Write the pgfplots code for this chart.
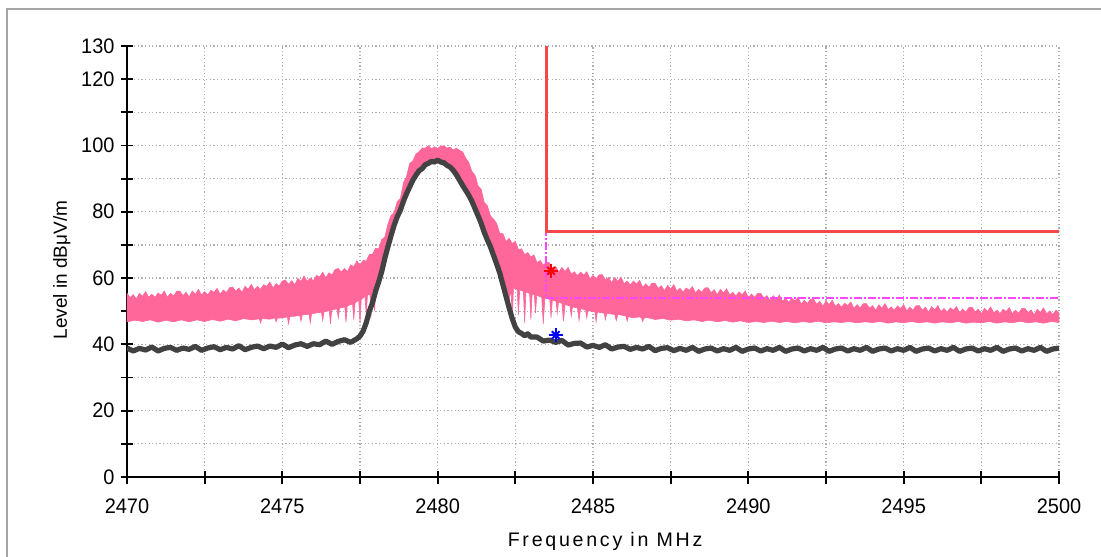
\documentclass[border=0pt]{standalone}
\usepackage{fontspec}
\setmainfont{Liberation Sans}
\newfontfamily\tickfont{Liberation Sans}[FakeStretch=0.95]
\newfontfamily\xlabfont{Liberation Sans}[LetterSpace=14]
\usepackage{pgfplots}
\pgfplotsset{compat=1.18}

\definecolor{pinkc}{RGB}{255,102,153}
\definecolor{darkc}{RGB}{66,66,66}
\definecolor{limc}{RGB}{245,72,72}
\definecolor{magc}{RGB}{255,70,255}
\definecolor{gridc}{RGB}{175,175,175}
\definecolor{framec}{RGB}{165,165,165}

\begin{document}
\begin{tikzpicture}
\useasboundingbox (-63.5pt,-39.5pt) rectangle (487pt,238.5pt);
\begin{axis}[
  at={(0,0)}, anchor=south west,
  scale only axis, width=466pt, height=215.5pt,
  xmin=2470, xmax=2500, ymin=0, ymax=130,
  axis x line*=bottom, axis y line*=left,
  axis line style={line width=1pt, -},
  xtick={2470,2475,...,2500},
  minor xtick={2472.5,2477.5,2482.5,2487.5,2492.5,2497.5},
  ytick={0,20,...,120,130},
  minor ytick={10,30,...,110},
  tick align=center, major tick length=6.5pt, minor tick length=6.5pt,
  tick style={black, line width=0.9pt},
  grid=both,
  grid style={gridc, line width=0.6pt, dash pattern=on 0.6pt off 1.2pt},
  minor grid style={gridc, line width=0.6pt, dash pattern=on 0.6pt off 1.2pt},
  /pgf/number format/.cd, 1000 sep={}, assume math mode=true,
  /pgfplots/.cd,
  tick label style={font=\tickfont\fontsize{10.5}{12}\selectfont, inner sep=0pt},
  xticklabel style={anchor=north, yshift=-7.3pt},
  yticklabel style={anchor=east, xshift=-2.8pt},
  xlabel={\xlabfont\fontsize{9.8}{11}\selectfont Frequency in MHz},
  ylabel={\fontsize{9.5}{11}\selectfont Level in dBμV/m},
  every axis x label/.style={at={(axis description cs:0.513,0)}, anchor=base, yshift=-34.5pt},
  every axis y label/.style={at={(axis description cs:0,0.48)}, xshift=-30pt, rotate=90, anchor=base},
]

% pink trace: upper edge forward, lower edge backward (with drop-outs)
\addplot[draw=pinkc, line width=0.3pt, fill=pinkc] coordinates {
(2470.0,55.4)(2470.1,54.1)(2470.2,55.0)(2470.3,53.7)(2470.4,55.4)(2470.5,54.5)(2470.6,55.9)(2470.7,54.2)(2470.8,55.1)(2470.9,54.2)
(2471.0,55.5)(2471.1,54.8)(2471.2,56.1)(2471.3,54.2)(2471.4,55.4)(2471.5,54.6)(2471.6,56.0)(2471.7,56.1)(2471.8,54.7)(2471.9,55.7)
(2472.0,54.3)(2472.1,56.1)(2472.2,55.1)(2472.3,56.6)(2472.4,54.9)(2472.5,55.9)(2472.6,54.9)(2472.7,56.3)(2472.8,55.7)(2472.9,56.9)
(2473.0,55.1)(2473.1,56.4)(2473.2,55.6)(2473.3,57.1)(2473.4,57.3)(2473.5,56.0)(2473.6,57.0)(2473.7,55.7)(2473.8,57.5)(2473.9,56.6)
(2474.0,58.1)(2474.1,56.4)(2474.2,57.5)(2474.3,56.6)(2474.4,58.0)(2474.5,57.5)(2474.6,58.8)(2474.7,57.0)(2474.8,58.3)(2474.9,57.6)
(2475.0,59.1)(2475.1,59.4)(2475.2,58.1)(2475.3,59.2)(2475.4,58.0)(2475.5,59.9)(2475.6,59.0)(2475.7,60.6)(2475.8,59.0)(2475.9,60.0)
(2476.0,59.2)(2476.1,60.8)(2476.2,60.3)(2476.3,61.8)(2476.4,60.1)(2476.5,61.6)(2476.6,60.9)(2476.7,62.6)(2476.8,62.9)(2476.9,61.8)
(2477.0,62.9)(2477.1,61.9)(2477.2,64.0)(2477.3,63.4)(2477.4,65.2)(2477.5,63.8)(2477.6,65.4)(2477.7,65.1)(2477.8,67.1)(2477.9,67.1)
(2478.0,69.0)(2478.1,68.8)(2478.2,71.6)(2478.3,72.4)(2478.4,76.3)(2478.5,78.9)(2478.6,79.8)(2478.7,83.1)(2478.8,84.0)(2478.9,88.7)
(2479.0,90.7)(2479.1,94.6)(2479.2,95.3)(2479.3,97.4)(2479.4,98.1)(2479.5,99.2)(2479.6,99.2)(2479.7,99.9)(2479.8,99.0)(2479.9,99.6)
(2480.0,99.1)(2480.1,99.8)(2480.2,99.9)(2480.3,99.2)(2480.4,99.5)(2480.5,98.6)(2480.6,99.2)(2480.7,98.5)(2480.8,98.1)(2480.9,96.2)
(2481.0,94.9)(2481.1,92.2)(2481.2,91.0)(2481.3,87.8)(2481.4,86.8)(2481.5,82.8)(2481.6,81.8)(2481.7,78.7)(2481.8,77.8)(2481.9,76.4)
(2482.0,73.5)(2482.1,73.4)(2482.2,71.0)(2482.3,72.0)(2482.4,70.4)(2482.5,71.1)(2482.6,68.6)(2482.7,68.8)(2482.8,67.1)(2482.9,67.7)
(2483.0,66.3)(2483.1,67.0)(2483.2,64.6)(2483.3,65.3)(2483.4,63.9)(2483.5,64.8)(2483.6,64.6)(2483.7,62.9)(2483.8,63.5)(2483.9,61.8)
(2484.0,63.2)(2484.1,62.0)(2484.2,63.2)(2484.3,61.2)(2484.4,61.9)(2484.5,60.7)(2484.6,61.8)(2484.7,60.9)(2484.8,61.9)(2484.9,59.8)
(2485.0,60.8)(2485.1,59.8)(2485.2,61.0)(2485.3,61.0)(2485.4,59.4)(2485.5,60.2)(2485.6,58.6)(2485.7,60.2)(2485.8,59.0)(2485.9,60.3)
(2486.0,58.3)(2486.1,59.1)(2486.2,57.9)(2486.3,59.1)(2486.4,58.2)(2486.5,59.3)(2486.6,57.2)(2486.7,58.3)(2486.8,57.2)(2486.9,58.5)
(2487.0,58.4)(2487.1,56.9)(2487.2,57.7)(2487.3,56.2)(2487.4,57.8)(2487.5,56.7)(2487.6,58.0)(2487.7,56.1)(2487.8,56.9)(2487.9,55.8)
(2488.0,57.0)(2488.1,56.3)(2488.2,57.4)(2488.3,55.5)(2488.4,56.6)(2488.5,55.7)(2488.6,57.0)(2488.7,57.1)(2488.8,55.6)(2488.9,56.5)
(2489.0,55.0)(2489.1,56.6)(2489.2,55.5)(2489.3,56.8)(2489.4,54.9)(2489.5,55.7)(2489.6,54.6)(2489.7,55.8)(2489.8,55.0)(2489.9,56.1)
(2490.0,54.1)(2490.1,55.2)(2490.2,54.2)(2490.3,55.4)(2490.4,55.4)(2490.5,53.9)(2490.6,54.7)(2490.7,53.2)(2490.8,54.7)(2490.9,53.6)
(2491.0,54.9)(2491.1,53.0)(2491.2,53.8)(2491.3,52.7)(2491.4,53.9)(2491.5,53.1)(2491.6,54.2)(2491.7,52.2)(2491.8,53.3)(2491.9,52.3)
(2492.0,53.6)(2492.1,53.6)(2492.2,52.1)(2492.3,53.0)(2492.4,51.5)(2492.5,53.1)(2492.6,52.0)(2492.7,53.3)(2492.8,51.5)(2492.9,52.3)
(2493.0,51.2)(2493.1,52.4)(2493.2,51.7)(2493.3,52.8)(2493.4,50.8)(2493.5,52.0)(2493.6,51.0)(2493.7,52.3)(2493.8,52.3)(2493.9,50.9)
(2494.0,51.7)(2494.1,50.3)(2494.2,51.9)(2494.3,50.9)(2494.4,52.3)(2494.5,50.5)(2494.6,51.3)(2494.7,50.3)(2494.8,51.6)(2494.9,50.8)
(2495.0,52.0)(2495.1,50.1)(2495.2,51.2)(2495.3,50.3)(2495.4,51.7)(2495.5,51.7)(2495.6,50.3)(2495.7,51.2)(2495.8,49.7)(2495.9,51.4)
(2496.0,50.4)(2496.1,51.7)(2496.2,49.9)(2496.3,50.8)(2496.4,49.7)(2496.5,51.0)(2496.6,50.3)(2496.7,51.4)(2496.8,49.5)(2496.9,50.7)
(2497.0,49.7)(2497.1,51.1)(2497.2,51.2)(2497.3,49.8)(2497.4,50.6)(2497.5,49.2)(2497.6,50.9)(2497.7,49.9)(2497.8,51.3)(2497.9,49.5)
(2498.0,50.3)(2498.1,49.3)(2498.2,50.6)(2498.3,49.9)(2498.4,51.1)(2498.5,49.2)(2498.6,50.3)(2498.7,49.4)(2498.8,50.8)(2498.9,50.9)
(2499.0,49.5)(2499.1,50.4)(2499.2,48.9)(2499.3,50.6)(2499.4,49.6)(2499.5,51.0)(2499.6,49.2)(2499.7,50.1)(2499.8,49.0)(2499.9,50.3)
(2500.0,49.6)
(2500.0,46.6)(2499.75,46.9)(2499.5,46.4)(2499.25,46.8)(2499.0,46.5)(2498.75,47.0)(2498.5,46.5)(2498.25,46.8)(2498.0,46.4)
(2497.75,46.9)(2497.5,46.5)(2497.25,46.7)(2497.0,46.4)(2496.75,46.9)(2496.5,46.5)(2496.25,46.8)(2496.0,46.4)
(2495.75,46.8)(2495.5,46.5)(2495.25,46.9)(2495.0,46.5)(2494.75,46.8)(2494.5,46.4)(2494.25,46.9)(2494.0,46.6)
(2493.75,46.8)(2493.5,46.5)(2493.25,46.9)(2493.0,46.6)(2492.75,46.8)(2492.5,46.5)(2492.25,47.0)(2492.0,46.6)
(2491.75,46.9)(2491.5,46.5)(2491.25,46.9)(2491.0,46.6)(2490.75,47.0)(2490.5,46.6)(2490.25,46.9)(2490.0,46.6)
(2489.75,47.1)(2489.5,46.7)(2489.25,47.2)(2489.0,46.8)(2488.75,47.3)(2488.5,46.9)(2488.25,47.4)(2488.0,47.1)
(2487.75,47.6)(2487.5,47.3)(2487.25,47.8)(2487.0,47.5)(2486.75,48.1)
(2486.64,47.9)(2486.6,46.9)(2486.56,48.0)(2486.5,48.3)(2486.25,48.0)
(2486.14,48.5)(2486.1,47.0)(2486.06,48.5)(2486.0,48.7)
(2485.8,49.0)(2485.75,47.2)(2485.7,49.0)(2485.5,49.3)(2485.44,49.3)(2485.4,47.5)(2485.36,49.4)(2485.25,49.6)
(2485.14,49.8)(2485.1,46.8)(2485.06,49.9)(2485.0,49.8)(2484.84,50.3)(2484.8,48.0)(2484.76,50.4)(2484.6,50.8)
(2484.55,47.2)(2484.5,51.0)(2484.34,51.3)(2484.3,48.5)(2484.26,51.6)(2484.1,52.0)(2484.05,47.0)(2484.0,52.4)
(2483.89,52.8)(2483.85,49.5)(2483.81,53.0)(2483.69,53.4)(2483.65,48.0)(2483.61,53.6)(2483.45,54.0)(2483.4,46.2)
(2483.35,54.2)(2483.19,54.8)(2483.15,49.5)(2483.11,55.0)(2483.04,55.2)(2483.0,47.5)(2482.96,55.4)(2482.84,55.8)
(2482.8,46.5)(2482.76,56.0)(2482.64,56.4)(2482.6,49.0)(2482.56,56.6)(2482.44,57.0)(2482.4,47.8)(2482.36,57.0)
(2482.3,53.0)(2482.2,55.5)(2482.1,58.5)(2482.0,61.5)
(2481.9,64.2)(2481.8,66.8)(2481.7,69.4)(2481.6,71.5)(2481.5,73.8)(2481.4,76.5)(2481.3,78.8)(2481.2,81.0)(2481.1,83.2)(2481.0,85.0)
(2480.9,86.5)(2480.8,88.0)(2480.7,89.6)(2480.6,91.2)(2480.5,92.5)(2480.4,93.5)(2480.3,94.0)(2480.2,94.8)(2480.0,95.2)
(2479.8,95.0)(2479.6,94.2)(2479.5,93.0)(2479.4,92.4)(2479.3,91.0)(2479.2,89.5)(2479.1,87.5)(2479.0,85.5)(2478.9,83.2)(2478.8,80.5)
(2478.7,78.5)(2478.6,76.0)(2478.5,72.8)(2478.4,69.5)(2478.3,66.0)(2478.2,62.0)(2478.1,58.8)
(2478.0,56.5)(2477.97,50.0)(2477.93,56.0)(2477.88,55.5)(2477.85,47.8)(2477.82,55.2)(2477.74,54.8)(2477.7,49.0)(2477.66,54.5)
(2477.54,53.6)(2477.5,46.5)(2477.46,53.3)(2477.34,52.5)(2477.3,47.5)(2477.26,52.2)(2477.09,51.6)(2477.05,46.8)(2477.01,51.3)
(2476.84,50.9)(2476.8,48.0)(2476.76,50.7)(2476.59,50.4)(2476.55,46.2)(2476.51,50.2)(2476.34,49.8)(2476.3,47.2)(2476.26,49.7)
(2476.1,49.5)(2475.94,49.2)(2475.9,46.5)(2475.86,49.1)(2475.64,48.9)(2475.6,47.0)(2475.56,48.8)(2475.4,48.5)
(2475.24,48.4)(2475.2,46.3)(2475.16,48.3)(2475.0,48.0)(2474.84,47.9)(2474.8,46.8)(2474.76,48.0)(2474.6,47.6)
(2474.34,47.8)(2474.3,46.5)(2474.26,47.7)(2474.0,47.4)(2473.75,47.8)(2473.5,47.1)(2473.25,47.6)(2473.0,47.0)
(2472.75,47.5)(2472.5,46.9)(2472.25,47.4)(2472.0,46.8)(2471.75,47.4)(2471.5,46.8)(2471.25,47.3)(2471.0,46.7)
(2470.75,47.4)(2470.5,46.9)(2470.25,47.3)(2470.0,46.8)
} -- cycle;

% limit lines
\addplot[magc, line width=1pt, dash pattern=on 4pt off 1pt on 1pt off 1pt] coordinates {(2483.5,130)(2483.5,54)(2500,54)};
\addplot[limc, line width=1.7pt] coordinates {(2483.5,130)(2483.5,74)(2500,74)};

% dark trace
\addplot[darkc, line width=2.6pt, line join=round] coordinates {
(2470.0,38.9)(2470.2,38.0)(2470.4,38.8)(2470.6,38.3)(2470.8,39.2)(2471.0,38.0)(2471.2,38.8)(2471.4,39.1)(2471.6,38.2)(2471.8,38.9)
(2472.0,38.5)(2472.2,39.4)(2472.4,38.2)(2472.6,38.9)(2472.8,39.3)(2473.0,38.4)(2473.2,39.1)(2473.4,38.6)(2473.6,39.6)(2473.8,38.4)
(2474.0,39.1)(2474.2,39.5)(2474.4,38.7)(2474.6,39.5)(2474.8,39.1)(2475.0,40.1)(2475.2,39.0)(2475.4,39.8)(2475.6,40.2)(2475.8,39.4)
(2476.0,40.2)(2476.2,39.9)(2476.4,41.0)(2476.6,40.0)(2476.8,40.9)(2477.0,41.4)(2477.2,40.6)(2477.4,41.7)
(2477.5,42.5)(2477.6,44.0)(2477.7,46.5)(2477.8,50.0)(2477.9,52.5)(2478.0,56.0)(2478.1,58.8)(2478.2,62.0)(2478.3,66.0)(2478.4,69.5)
(2478.5,72.8)(2478.6,76.0)(2478.7,78.5)(2478.8,80.5)(2478.9,83.2)(2479.0,85.5)(2479.1,87.5)(2479.2,89.5)(2479.3,91.0)(2479.4,92.4)
(2479.5,93.0)(2479.6,94.2)(2479.7,94.6)(2479.8,95.2)(2479.9,95.0)(2480.0,95.6)(2480.1,95.0)(2480.2,94.8)(2480.3,94.0)(2480.4,93.5)
(2480.5,92.5)(2480.6,91.2)(2480.7,89.6)(2480.8,88.0)(2480.9,86.5)(2481.0,85.0)(2481.1,83.2)(2481.2,81.0)(2481.3,78.8)(2481.4,76.5)
(2481.5,73.8)(2481.6,71.5)(2481.7,69.4)(2481.8,66.8)(2481.9,64.2)(2482.0,61.5)(2482.1,58.0)(2482.2,54.5)(2482.3,51.0)(2482.4,47.8)
(2482.5,45.2)(2482.6,43.8)(2482.7,43.3)(2482.8,42.6)(2482.9,43.2)(2483.0,42.2)
(2483.2,42.2)(2483.4,41.0)(2483.6,41.3)(2483.8,40.6)(2484.0,41.2)(2484.2,39.8)(2484.4,40.3)(2484.6,40.4)(2484.8,39.2)(2485.0,39.7)
(2485.2,39.1)(2485.4,39.9)(2485.6,38.6)(2485.8,39.2)(2486.0,39.4)(2486.2,38.5)(2486.4,39.1)(2486.6,38.6)(2486.8,39.4)(2487.0,38.1)
(2487.2,38.8)(2487.4,39.0)(2487.6,38.1)(2487.8,38.8)(2488.0,38.2)(2488.2,39.1)(2488.4,37.9)(2488.6,38.6)(2488.8,38.9)(2489.0,38.0)
(2489.2,38.7)(2489.4,38.2)(2489.6,39.1)(2489.8,37.9)(2490.0,38.6)(2490.2,38.9)(2490.4,38.0)(2490.6,38.7)(2490.8,38.2)(2491.0,39.1)
(2491.2,37.9)(2491.4,38.6)(2491.6,38.9)(2491.8,38.0)(2492.0,38.7)(2492.2,38.2)(2492.4,39.1)(2492.6,37.9)(2492.8,38.6)(2493.0,38.9)
(2493.2,38.0)(2493.4,38.7)(2493.6,38.2)(2493.8,39.1)(2494.0,37.9)(2494.2,38.6)(2494.4,38.9)(2494.6,38.0)(2494.8,38.7)(2495.0,38.2)
(2495.2,39.1)(2495.4,37.9)(2495.6,38.6)(2495.8,38.9)(2496.0,38.0)(2496.2,38.7)(2496.4,38.2)(2496.6,39.1)(2496.8,37.9)(2497.0,38.6)
(2497.2,38.9)(2497.4,38.0)(2497.6,38.7)(2497.8,38.2)(2498.0,39.1)(2498.2,37.9)(2498.4,38.6)(2498.6,38.9)(2498.8,38.0)(2499.0,38.7)
(2499.2,38.2)(2499.4,39.1)(2499.6,37.9)(2499.8,38.6)(2500.0,38.9)
};

% markers
\addplot[only marks, red, mark=+, mark size=3.6pt, line width=1pt] coordinates {(2483.65,62.2)};
\addplot[only marks, red, mark=x, mark size=2.7pt, line width=1pt] coordinates {(2483.65,62.2)};
\addplot[only marks, blue, mark=+, mark size=3.6pt, line width=1pt] coordinates {(2483.8,42.8)};
\addplot[only marks, blue, mark=x, mark size=2.7pt, line width=1pt] coordinates {(2483.8,42.8)};
\end{axis}
\draw[framec, line width=1pt] (-60pt,-40pt) -- (-60pt,234pt) -- (488pt,234pt);
\end{tikzpicture}
\end{document}
